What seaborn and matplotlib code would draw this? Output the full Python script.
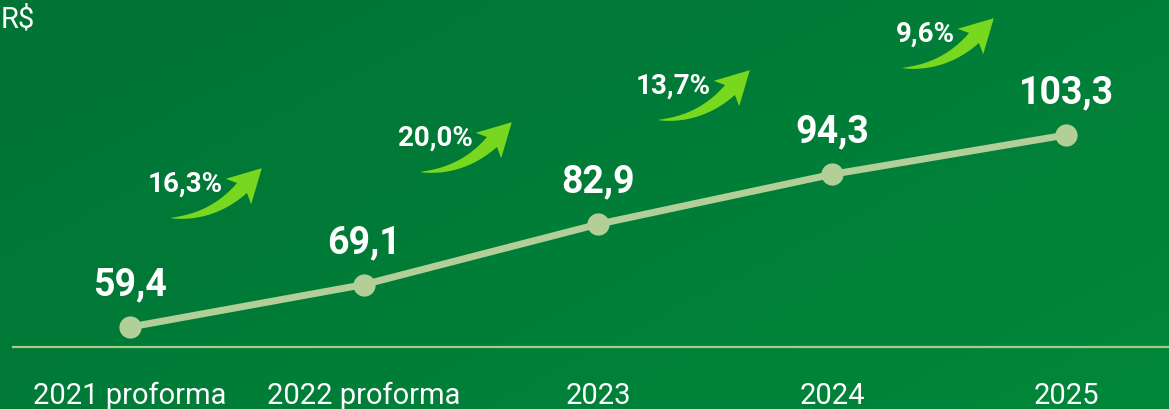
import numpy as np
import pandas as pd
import matplotlib
matplotlib.use("Agg")
import matplotlib.pyplot as plt
from matplotlib.patches import Polygon
import seaborn as sns

# dados (R$ bilhões)
anos = ["2021 proforma", "2022 proforma", "2023", "2024", "2025"]
valores = [59.4, 69.1, 82.9, 94.3, 103.3]
crescimento = ["16,3%", "20,0%", "13,7%", "9,6%"]

sns.set_theme(style="white")
plt.rcParams['font.family'] = ['Roboto', 'DejaVu Sans']

VERDE_LINHA = "#b3cf98"
VERDE_SETA = "#78d81f"
W, H = 1169, 409

df = pd.DataFrame({"ano": anos, "valor": valores})
df["pos"] = range(len(df))

fig = plt.figure(figsize=(W / 100, H / 100), dpi=100)

# fundo em degradê
bg = fig.add_axes([0, 0, 1, 1])
gx, gy = np.meshgrid(np.linspace(0, 1, 200), np.linspace(0, 1, 80))
grad = (gx * 0.6 + gy * 0.4)
cmap = matplotlib.colors.LinearSegmentedColormap.from_list("bg", ["#007335", "#00873a"])
bg.imshow(grad, cmap=cmap, aspect="auto", extent=[0, 1, 0, 1], origin="upper")
bg.set_axis_off()

ax = fig.add_axes([13 / W, 62 / H, 1 - 13 / W, 1 - 62 / H])
ax.patch.set_alpha(0)

sns.lineplot(data=df, x="pos", y="valor", ax=ax, color=VERDE_LINHA, linewidth=5,
             marker="o", markersize=16, markeredgewidth=0, zorder=3)

for _, r in df.iterrows():
    ax.annotate(f"{r['valor']:.1f}".replace(".", ","), (r["pos"], r["valor"]),
                xytext=(0, 17), textcoords="offset points", ha="center", va="bottom",
                fontsize=27, fontweight="bold", color="white")

ax.set_xlim(-0.5, 4.44)
ax.set_ylim(54.83, 134.16)
ax.set_xticks(df["pos"])
ax.set_xticklabels(anos)
ax.tick_params(axis="x", colors="white", labelsize=21, length=0, pad=25)
ax.set_yticks([])
ax.set_xlabel("")
ax.set_ylabel("")
for s in ["top", "right", "left"]:
    ax.spines[s].set_visible(False)
ax.spines["bottom"].set_color("#a6cc8c")
ax.spines["bottom"].set_linewidth(1.6)


def seta(tx, ty):
    # seta curva afinando na cauda (coordenadas em pixels, y para baixo)
    p0 = np.array([tx, ty])
    p1 = p0 + [42, 0]
    p2 = p0 + [72, -30]
    t = np.linspace(0, 1, 40)[:, None]
    c = (1 - t) ** 2 * p0 + 2 * (1 - t) * t * p1 + t ** 2 * p2
    d = 2 * (1 - t) * (p1 - p0) + 2 * t * (p2 - p1)
    d = d / np.linalg.norm(d, axis=1, keepdims=True)
    n = np.column_stack([d[:, 1], -d[:, 0]])
    w = 7 * t ** 0.8
    cima = c + n * w
    baixo = c - n * w
    dir_f, n_f = d[-1], n[-1]
    cabeca = [p2 - n_f * 7, p2 - n_f * 18 - dir_f * 5, p2 + dir_f * 28,
              p2 + n_f * 18 - dir_f * 5, p2 + n_f * 7]
    pts = np.vstack([baixo, cabeca, cima[::-1]])
    pts = np.column_stack([pts[:, 0] / W, (H - pts[:, 1]) / H])
    fig.patches.append(Polygon(pts, closed=True, transform=fig.transFigure,
                               facecolor=VERDE_SETA, edgecolor="none", zorder=5))


# setas de crescimento
caudas = [(170, 218), (420, 172), (658, 120), (902, 68)]
for txt, (tx, ty) in zip(crescimento, caudas):
    seta(tx, ty)
    fig.text((tx + 53) / W, (H - ty + 34) / H, txt, ha="right", va="center",
             fontsize=20, fontweight="bold", color="white")

fig.text(1 / W, (H - 19) / H, "R$", ha="left", va="center", fontsize=21, color="white")

fig.savefig("out.png", dpi=100)
